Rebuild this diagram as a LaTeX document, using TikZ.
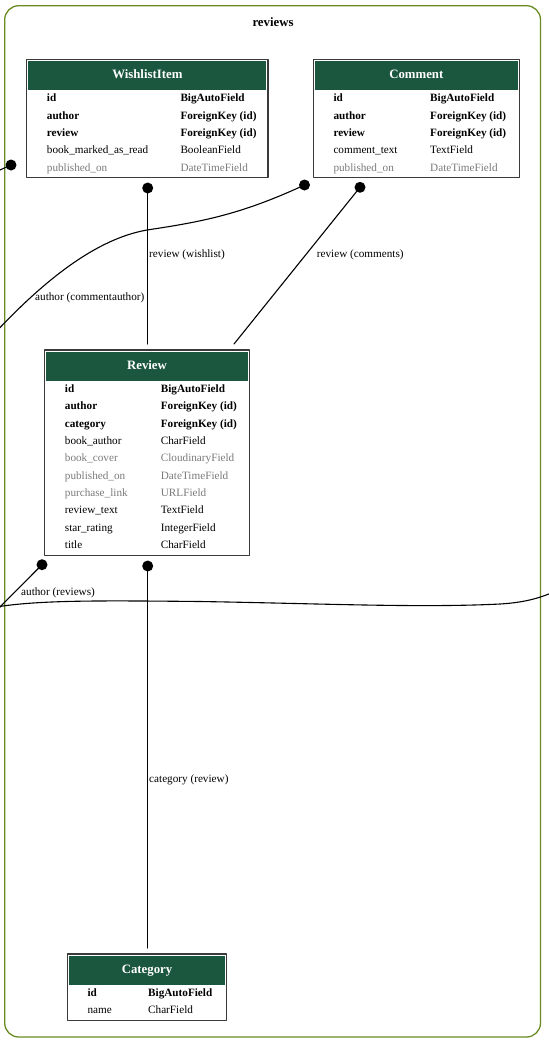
\documentclass[tikz,border=0pt]{standalone}
\usepackage{fontspec}
\setmainfont{Liberation Serif}
\definecolor{headgreen}{HTML}{1B563F}
\definecolor{clustergreen}{HTML}{698B22}
\definecolor{nullgray}{HTML}{7B7B7B}
\definecolor{tblborder}{HTML}{3A3A3A}
\tikzset{
  ffont/.style={font=\fontsize{11.2}{13}\selectfont, inner sep=0pt},
  fbold/.style={ffont, font=\fontsize{11.2}{13}\selectfont\bfseries},
  fnorm/.style={ffont},
  fnull/.style={ffont, text=nullgray},
  headf/.style={font=\fontsize{12.8}{15}\selectfont\bfseries, text=white, inner sep=0pt},
  tbl/.style={draw=tblborder, line width=1.2pt, fill=white, inner sep=0pt, outer sep=0pt},
  fkdot/.style={circle, fill=black, inner sep=0pt, minimum size=11pt},
  edge/.style={line width=1.1pt, black},
  elabel/.style={font=\fontsize{11.2}{13}\selectfont, inner sep=0pt, anchor=base west},
}
% #1 name, #2 left, #3 top, #4 width, #5 type column, #6 title, #7 rows
\newcommand{\erbox}[7]{%
  \foreach \r [count=\n] in {#7} {\xdef\erows{\n}}
  \pgfmathsetmacro\erh{31.9+17.33*\erows}
  \node[tbl, minimum width=#4, minimum height=\erh, anchor=north west] (#1) at (#2,#3) {};
  \fill[headgreen] (#2+1.6,#3+1.6) rectangle (#2+#4-1.6,#3+31);
  \node[headf, anchor=base] (#1-h) at (#2+#4/2,#3+19) {#6};
  \foreach \fn/\ft/\st [count=\i from 0] in {#7} {
    \node[\st, anchor=base west] (#1-n\i) at (#2+20,#3+42.5+17.33*\i) {\fn};
    \node[\st, anchor=base west] (#1-t\i) at (#2+#5,#3+42.5+17.33*\i) {\ft};
  }
}
\begin{document}
\begin{tikzpicture}[x=1pt, y=-1pt, line join=round, line cap=round]
  \useasboundingbox (0,0) rectangle (549,1045);
  \clip (0,0) rectangle (549,1045);
  % cluster
  \draw[clustergreen, line width=1.3pt, rounded corners=14pt] (4.7,5.7) rectangle (540.5,1037);
  \node[font=\fontsize{12.8}{15}\selectfont\bfseries, inner sep=0pt, anchor=base] (cltitle) at (273,26.5) {reviews};

  \erbox{wish}{26.7}{59.3}{241.3}{153.6}{WishlistItem}{id/BigAutoField/fbold,author/ForeignKey (id)/fbold,review/ForeignKey (id)/fbold,book\_marked\_as\_read/BooleanField/fnorm,published\_on/DateTimeField/fnull}
  \erbox{comm}{313.3}{59.3}{206}{116.7}{Comment}{id/BigAutoField/fbold,author/ForeignKey (id)/fbold,review/ForeignKey (id)/fbold,comment\_text/TextField/fnorm,published\_on/DateTimeField/fnull}
  \erbox{revw}{44.7}{350}{204.6}{116}{Review}{id/BigAutoField/fbold,author/ForeignKey (id)/fbold,category/ForeignKey (id)/fbold,book\_author/CharField/fnorm,book\_cover/CloudinaryField/fnull,published\_on/DateTimeField/fnull,purchase\_link/URLField/fnull,review\_text/TextField/fnorm,star\_rating/IntegerField/fnorm,title/CharField/fnorm}
  \erbox{catg}{67.3}{954}{159.4}{80.7}{Category}{id/BigAutoField/fbold,name/CharField/fnorm}

  % foreign key ends
  \node[fkdot] (wish-d1) at (11,165) {};
  \node[fkdot] (wish-d2) at (147.7,188) {};
  \node[fkdot] (comm-d1) at (304.5,185) {};
  \node[fkdot] (comm-d2) at (360,187.3) {};
  \node[fkdot] (revw-d1) at (42,564.7) {};
  \node[fkdot] (revw-d2) at (147.7,566) {};
  \coordinate (off1) at (-22,180);
  \coordinate (off2) at (-8,336);
  \coordinate (off3) at (-4,611);
  \coordinate (off4) at (-4,607);
  \coordinate (off5) at (556,591);
  \coordinate (revw-in1) at (147.7,344);
  \coordinate (revw-in2) at (234,344);
  \coordinate (catg-in) at (147.7,948);

  \draw[edge] (wish-d1.center) -- (off1);
  \draw[edge] (comm-d1.center) .. controls (240,215) and (200,222) .. (147,230)
    .. controls (90,240) and (35,290) .. (off2);
  \node[elabel] (l-ca) at (35,300.5) {author (commentauthor)};
  \draw[edge] (wish-d2.center) -- (revw-in1);
  \node[elabel] (l-rw) at (149,257) {review (wishlist)};
  \draw[edge] (comm-d2.center) -- (revw-in2);
  \node[elabel] (l-rc) at (316.7,257) {review (comments)};
  \draw[edge] (revw-d1.center) -- (off3);
  \node[elabel] (l-ar) at (21,595.5) {author (reviews)};
  \draw[edge] (off4) .. controls (40,600) and (100,600.5) .. (200,601.5)
    .. controls (320,603.5) and (420,608) .. (500,604)
    .. controls (525,602.5) and (540,598) .. (off5);
  \draw[edge] (revw-d2.center) -- (catg-in);
  \node[elabel] (l-cr) at (149,782) {category (review)};
\end{tikzpicture}
\end{document}
